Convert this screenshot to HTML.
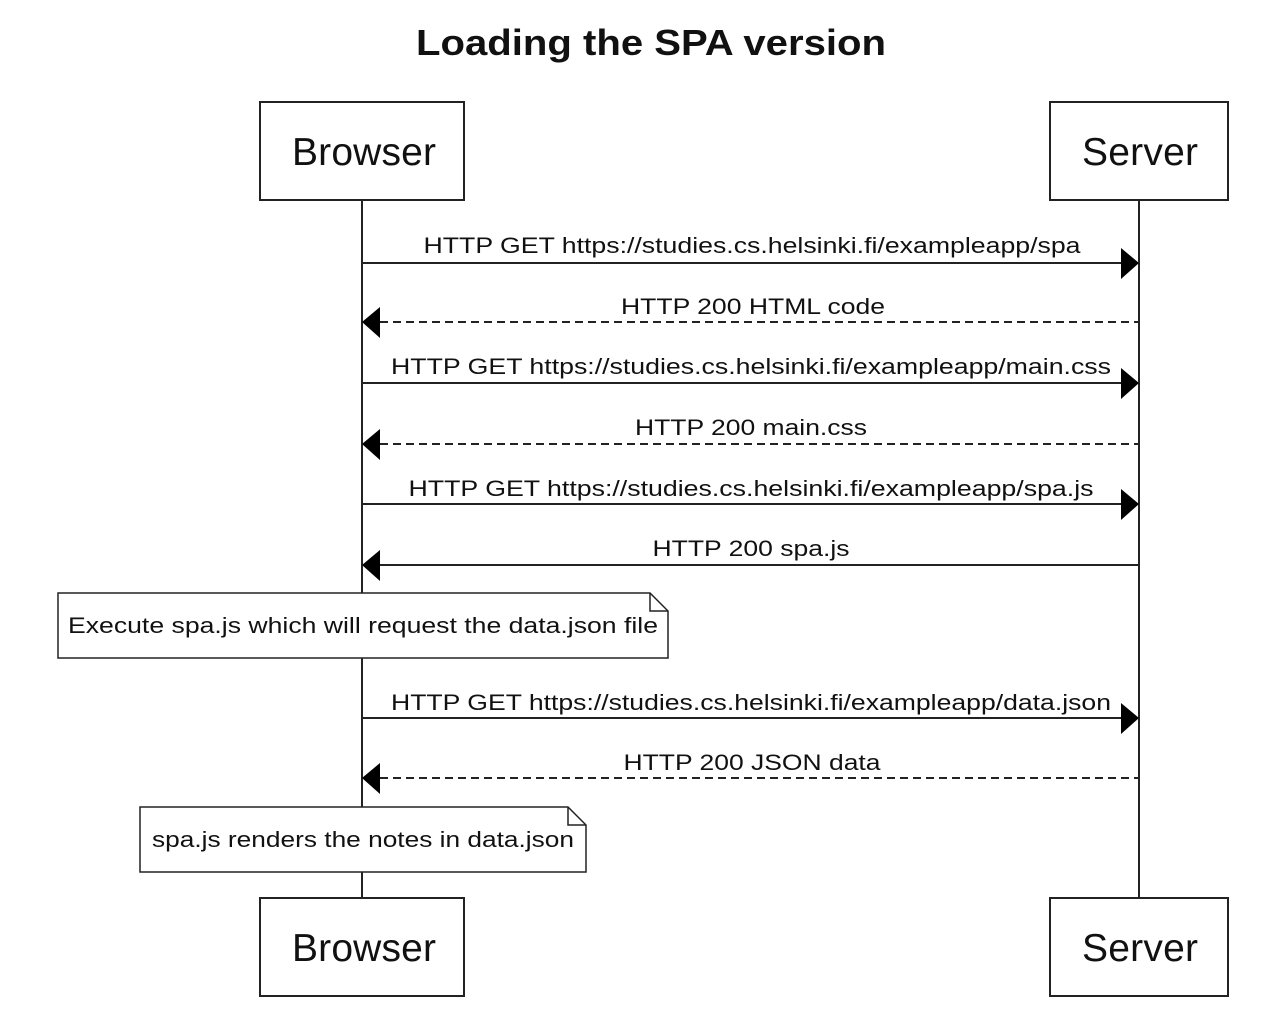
<!DOCTYPE html>
<html><head><meta charset="utf-8"><style>
html,body{margin:0;padding:0;background:#fff;}
svg{display:block;}
text{font-family:"Liberation Sans",Arial,sans-serif;fill:#111;}
</style></head><body>
<svg width="1286" height="1022" viewBox="0 0 1286 1022" xmlns="http://www.w3.org/2000/svg">
<text x="651" y="55" font-size="36" font-weight="bold" text-anchor="middle" textLength="470" lengthAdjust="spacingAndGlyphs">Loading the SPA version</text>
<g stroke="#222" stroke-width="2" fill="none">
<line x1="362" y1="200" x2="362" y2="898"/>
<line x1="1139" y1="200" x2="1139" y2="898"/>
<rect x="260" y="102" width="204" height="98" fill="#fff"/>
<rect x="1050" y="102" width="178" height="98" fill="#fff"/>
<rect x="260" y="898" width="204" height="98" fill="#fff"/>
<rect x="1050" y="898" width="178" height="98" fill="#fff"/>
</g>
<g font-size="39" text-anchor="middle" lengthAdjust="spacingAndGlyphs">
<text x="364" y="165" textLength="144">Browser</text>
<text x="1140" y="165" textLength="116">Server</text>
<text x="364" y="961" textLength="144">Browser</text>
<text x="1140" y="961" textLength="116">Server</text>
</g>
<g stroke="#222" stroke-width="2">
<line x1="362" y1="263" x2="1122" y2="263"/>
<line x1="380" y1="322" x2="1139" y2="322" stroke-dasharray="8,5"/>
<line x1="362" y1="383" x2="1122" y2="383"/>
<line x1="380" y1="444" x2="1139" y2="444" stroke-dasharray="8,5"/>
<line x1="362" y1="504" x2="1122" y2="504"/>
<line x1="380" y1="565" x2="1139" y2="565"/>
<line x1="362" y1="718" x2="1122" y2="718"/>
<line x1="380" y1="778" x2="1139" y2="778" stroke-dasharray="8,5"/>
</g>
<g fill="#000">
<polygon points="1121,248 1139,263 1121,279"/>
<polygon points="380,307 362,322 380,338"/>
<polygon points="1121,368 1139,383 1121,399"/>
<polygon points="380,429 362,444 380,460"/>
<polygon points="1121,489 1139,504 1121,520"/>
<polygon points="380,550 362,565 380,581"/>
<polygon points="1121,703 1139,718 1121,734"/>
<polygon points="380,763 362,778 380,794"/>
</g>
<g font-size="22" text-anchor="middle">
<text x="752" y="253" textLength="657" lengthAdjust="spacingAndGlyphs">HTTP GET https://studies.cs.helsinki.fi/exampleapp/spa</text>
<text x="753" y="314" textLength="264" lengthAdjust="spacingAndGlyphs">HTTP 200 HTML code</text>
<text x="751" y="374" textLength="720" lengthAdjust="spacingAndGlyphs">HTTP GET https://studies.cs.helsinki.fi/exampleapp/main.css</text>
<text x="751" y="435" textLength="232" lengthAdjust="spacingAndGlyphs">HTTP 200 main.css</text>
<text x="751" y="496" textLength="685" lengthAdjust="spacingAndGlyphs">HTTP GET https://studies.cs.helsinki.fi/exampleapp/spa.js</text>
<text x="751" y="556" textLength="197" lengthAdjust="spacingAndGlyphs">HTTP 200 spa.js</text>
<text x="751" y="710" textLength="720" lengthAdjust="spacingAndGlyphs">HTTP GET https://studies.cs.helsinki.fi/exampleapp/data.json</text>
<text x="752" y="770" textLength="257" lengthAdjust="spacingAndGlyphs">HTTP 200 JSON data</text>
</g>
<g stroke="#222" stroke-width="1.5" fill="#fff">
<polygon points="58,593 650,593 668,611 668,658 58,658"/>
<polyline points="650,593 650,611 668,611" fill="none"/>
<polygon points="140,807 568,807 586,825 586,872 140,872"/>
<polyline points="568,807 568,825 586,825" fill="none"/>
</g>
<g font-size="22" text-anchor="middle">
<text x="363" y="633" textLength="590" lengthAdjust="spacingAndGlyphs">Execute spa.js which will request the data.json file</text>
<text x="363" y="847" textLength="422" lengthAdjust="spacingAndGlyphs">spa.js renders the notes in data.json</text>
</g>
</svg>
</body></html>
